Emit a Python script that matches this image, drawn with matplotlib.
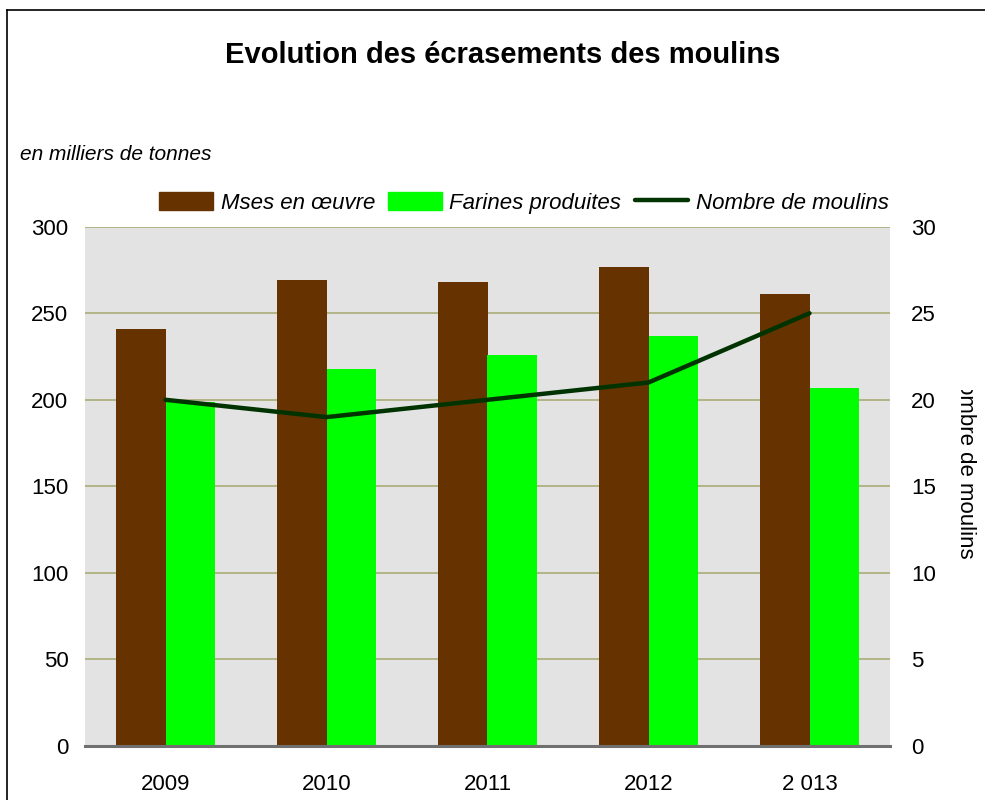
import matplotlib
matplotlib.use("Agg")
import matplotlib.pyplot as plt
import numpy as np
from matplotlib.transforms import Bbox
from matplotlib.lines import Line2D

plt.rcParams['font.family'] = ['Liberation Sans', 'DejaVu Sans']

years = ["2009", "2010", "2011", "2012", "2 013"]
mises_en_oeuvre = [241, 269, 268, 277, 261]
farines_produites = [199, 218, 226, 237, 207]
nombre_moulins = [20, 19, 20, 21, 25]
left_ticks = [0, 50, 100, 150, 200, 250, 300]
right_ticks = [0, 5, 10, 15, 20, 25, 30]

W, H = 985, 800
fig = plt.figure(figsize=(W / 100, H / 100), dpi=100)
ax = fig.add_axes([85 / W, 1 - 746 / H, (890 - 85) / W, (746 - 226.7) / H])
ax.set_facecolor('#E3E3E3')

x = np.arange(len(years))
bw = 0.305
ax.bar(x - bw / 2, mises_en_oeuvre, width=bw, color='#663300', zorder=3)
ax.bar(x + bw / 2, farines_produites, width=bw, color='#00FF00', zorder=3)
ax.set_xlim(-0.5, len(years) - 0.5)
ax.set_ylim(0, 300)
ax.set_yticks(left_ticks)
for t in left_ticks[1:]:
    ax.axhline(t, color='#A6A66E', lw=1.1, zorder=1)
ax.axhline(0, color='#707070', lw=2.2, zorder=5, clip_on=False)
for s in ax.spines.values():
    s.set_visible(False)
ax.set_xticks(x)
ax.set_xticklabels(years)
ax.tick_params(axis='both', length=0, labelsize=16)
ax.tick_params(axis='x', pad=20)
ax.tick_params(axis='y', pad=12)

ax2 = ax.twinx()
ax2.plot(x, nombre_moulins, color='#003300', lw=3.2, solid_capstyle='round', zorder=6)
ax2.set_ylim(0, 30)
ax2.set_yticks(right_ticks)
for s in ax2.spines.values():
    s.set_visible(False)
ax2.tick_params(axis='y', length=0, labelsize=16, pad=15)

# title and texts
fig.text(503 / W, 1 - 55 / H, "Evolution des écrasements des moulins",
         ha='center', va='center', fontsize=21, fontweight='bold')
fig.text(20 / W, 1 - 155 / H, "en milliers de tonnes", ha='left', va='center',
         fontsize=15, style='italic')

# right axis label clipped
rl = fig.text(965 / W, 1 - 462 / H, "Nombre de moulins", rotation=-90,
              ha='center', va='center', fontsize=16)
rl.set_clip_box(Bbox.from_extents(900, 0, 985, H - 390))
rl.set_clip_on(True)

# legend
handles = [plt.Rectangle((0, 0), 1, 1, color='#663300'),
           plt.Rectangle((0, 0), 1, 1, color='#00FF00'),
           Line2D([0], [0], color='#003300', lw=3.2, solid_capstyle='round')]
labels = ["Mses en œuvre", "Farines produites", "Nombre de moulins"]
leg = fig.legend(handles, labels, loc='center', bbox_to_anchor=(524 / W, 1 - 203 / H),
                 ncol=3, frameon=False, prop={'style': 'italic', 'size': 16},
                 handlelength=2.4, handleheight=0.85, handletextpad=0.35, columnspacing=0.6)

# border
fig.add_artist(Line2D([7 / W, 1], [1 - 10 / H, 1 - 10 / H], color='black', lw=1.2))
fig.add_artist(Line2D([7 / W, 7 / W], [0, 1 - 10 / H], color='black', lw=1.2))

fig.savefig("out.png", dpi=100)
